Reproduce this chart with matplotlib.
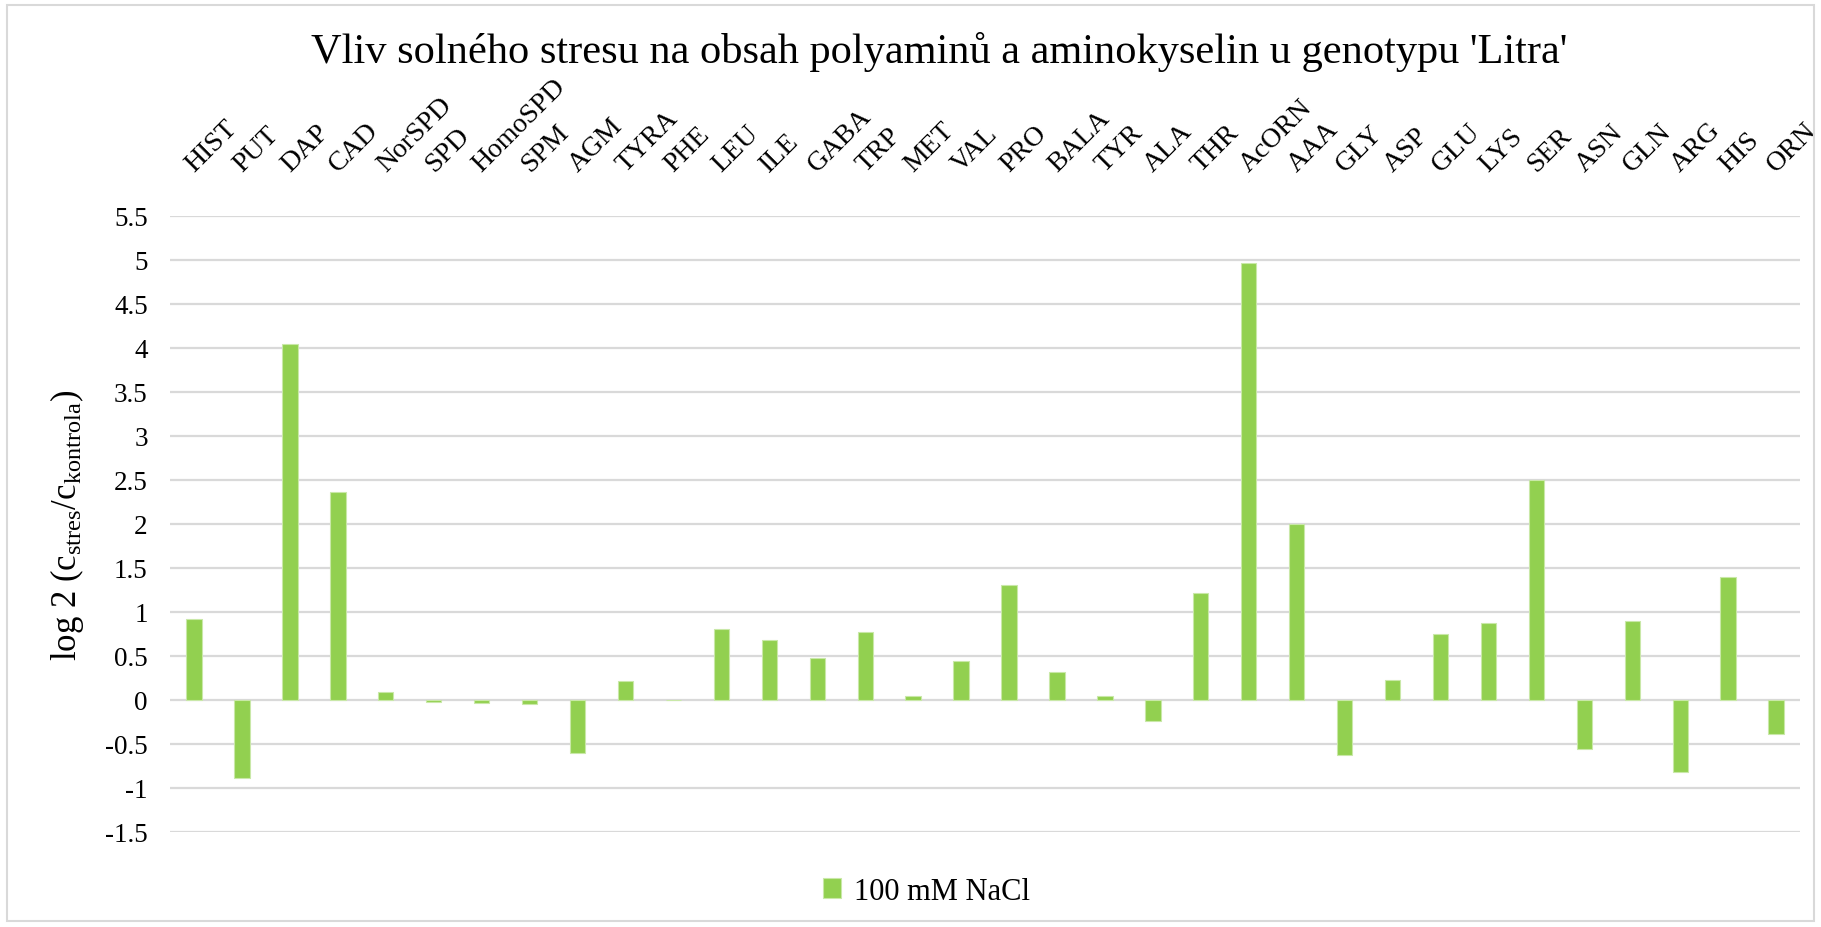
import numpy as np
import matplotlib.pyplot as plt
from matplotlib.patches import Rectangle

categories = ['HIST', 'PUT', 'DAP', 'CAD', 'NorSPD', 'SPD', 'HomoSPD', 'SPM', 'AGM', 'TYRA',
              'PHE', 'LEU', 'ILE', 'GABA', 'TRP', 'MET', 'VAL', 'PRO', 'BALA', 'TYR',
              'ALA', 'THR', 'AcORN', 'AAA', 'GLY', 'ASP', 'GLU', 'LYS', 'SER', 'ASN',
              'GLN', 'ARG', 'HIS', 'ORN']
nacl_100 = [0.92, -0.89, 4.05, 2.36, 0.09, -0.02, -0.03, -0.045, -0.60, 0.22,
            0.0, 0.81, 0.68, 0.48, 0.77, 0.05, 0.44, 1.31, 0.32, 0.045,
            -0.24, 1.21, 4.97, 2.00, -0.63, 0.23, 0.75, 0.88, 2.50, -0.56,
            0.90, -0.82, 1.40, -0.39]
yticks = [-1.5, -1, -0.5, 0, 0.5, 1, 1.5, 2, 2.5, 3, 3.5, 4, 4.5, 5, 5.5]
series_name = '100 mM NaCl'
title = "Vliv solného stresu na obsah polyaminů a aminokyselin u genotypu 'Litra'"

plt.rcParams['font.family'] = ['Liberation Serif', 'DejaVu Serif']
plt.rcParams['mathtext.fontset'] = 'custom'
plt.rcParams['mathtext.rm'] = 'Liberation Serif'
plt.rcParams['mathtext.it'] = 'Liberation Serif'

green = '#92d050'
grid = '#d9d9d9'

fig = plt.figure(figsize=(18.21, 9.28), dpi=100)
ax = fig.add_axes([0.0934, 0.1024, 0.8951, 0.6638])

x = np.arange(len(categories))
ax.bar(x, nacl_100, width=0.32, color=green, edgecolor='#c9e8a8', linewidth=0.8,
       label=series_name, zorder=3)

ax.set_xlim(-0.5, len(categories) - 0.5)
ax.set_ylim(-1.5, 5.5)
ax.set_yticks(yticks)
ax.set_yticklabels([f'{v:g}' for v in yticks], fontsize=19.5)
ax.tick_params(axis='y', length=0, pad=16)
ax.set_xticks([])
for s in ax.spines.values():
    s.set_visible(False)
for v in yticks:
    ax.axhline(v, color=grid, linewidth=1.6, zorder=1)

# category labels above the plot, rotated like Excel
for i, name in enumerate(categories):
    ax.annotate(name, xy=(i, 1.0), xycoords=('data', 'axes fraction'),
                xytext=(0, 32), textcoords='offset points',
                rotation=45, ha='left', va='baseline', rotation_mode='anchor',
                fontsize=20)

ax.set_ylabel(r'log 2 (c$_{\mathrm{stres}}$/c$_{\mathrm{kontrola}}$)', fontsize=25, labelpad=14)

fig.text(0.516, 0.944, title, ha='center', va='center', fontsize=30.5)

ax.legend(loc='center', bbox_to_anchor=(0.464, -0.096), frameon=False, fontsize=22,
          handlelength=0.6, handleheight=0.6, handletextpad=0.4)

fig.patches.append(Rectangle((0.004, 0.007), 0.992, 0.986, transform=fig.transFigure,
                             fill=False, edgecolor=grid, linewidth=1.5))

fig.savefig('out.png', dpi=100)
